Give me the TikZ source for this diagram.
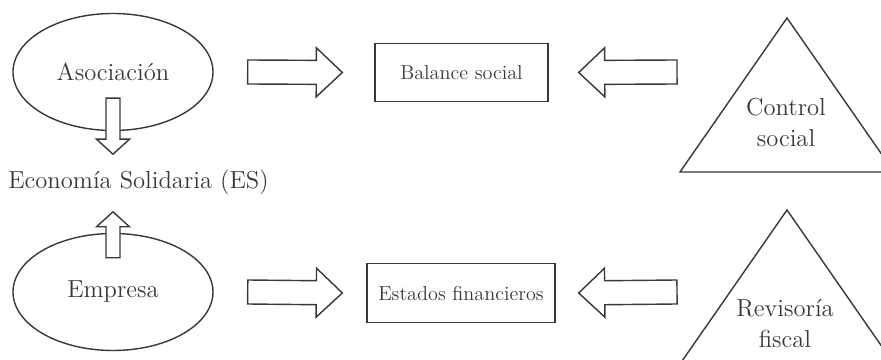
\documentclass[tikz,border=0pt]{standalone}
\usepackage{tikz}
\usetikzlibrary{positioning,calc,shapes.geometric}
\definecolor{ink}{gray}{0.22}
\newcommand\lblfont{\fontsize{14}{18}\selectfont}
\newcommand\boxfont{\fontsize{11.5}{14}\selectfont}
\tikzset{%
  blob/.style     = { ellipse, draw = ink, line width = 0.8pt, text = ink, font = \lblfont,
                      minimum width = 4cm, minimum height = 2.34cm },
  sbox/.style     = { rectangle, draw = ink, line width = 0.8pt, text = ink, font = \boxfont,
                      minimum width = #1, minimum height = 1.17cm },
  tri/.style      = { draw = ink, line width = 0.8pt },
  tlbl/.style     = { text = ink, font = \lblfont, align = center, inner sep = 0pt },
  fat/.style n args = {3}{ draw = ink, line width = 0.8pt, fill = white,
                      to path = { ($(\tikztotarget)!#3!(\tikztostart)$) coordinate (fatbase)
                        ($(\tikztostart)!#1!90:(\tikztotarget)$)
                        -- ($(fatbase)!#1!90:(\tikztotarget)$)
                        -- ($(fatbase)!#2!90:(\tikztotarget)$)
                        -- (\tikztotarget)
                        -- ($(fatbase)!#2!-90:(\tikztotarget)$)
                        -- ($(fatbase)!#1!-90:(\tikztotarget)$)
                        -- ($(\tikztostart)!#1!-90:(\tikztotarget)$)
                        -- cycle } },
  hfat/.style     = { fat = {0.24cm}{0.49cm}{0.52cm} },
  vfat/.style     = { fat = {0.14cm}{0.33cm}{0.3cm} }
}
\begin{document}
\begin{tikzpicture}
\useasboundingbox (0,0) rectangle (17.62,7.2);

\node(asoc) [blob] at (2.26,5.76) {Asociación};
\node(emp)  [blob] at (2.26,1.36) {Empresa};
\node(es)   [anchor = west, inner sep = 0pt, text = ink, font = \lblfont] at (0.16,3.55)
            {Economía Solidaria (ES)};

\node(bal) [sbox=3.46cm] at (9.23,5.75) {Balance social};
\node(est) [sbox=3.76cm] at (9.22,1.34) {Estados financieros};

% triangles
\coordinate (ctop) at (15.74,6.84);
\coordinate (rtop) at (15.74,3.0);
\draw[tri] (ctop) -- ++(-2.14,-3.08) -- ++(4.28,0) -- cycle;
\draw[tri] (rtop) -- ++(-2.14,-3.08) -- ++(4.28,0) -- cycle;
\node(ctrl) [tlbl] at (15.72,4.75) {Control\\social};
\node(rev)  [tlbl] at (15.70,0.73) {Revisoría\\fiscal};

% arrow ends
\coordinate[right = 0.68cm of asoc] (a1s);
\coordinate[left  = 0.64cm of bal]  (a1e);
\coordinate (a2s) at (13.54,5.76);
\coordinate[right = 0.60cm of bal]  (a2e);
\coordinate[right = 0.68cm of emp]  (a3s);
\coordinate[left  = 0.48cm of est]  (a3e);
\coordinate (a4s) at (13.54,1.36);
\coordinate[right = 0.46cm of est]  (a4e);
\coordinate[above = 0.66cm of asoc.south] (d1s);
\coordinate[below = 0.46cm of asoc.south] (d1e);
\coordinate[below = 0.50cm of emp.north]  (u1s);
\coordinate[above = 0.42cm of emp.north]  (u1e);

\draw[hfat] (a1s) to (a1e);
\draw[hfat] (a2s) to (a2e);
\draw[hfat] (a3s) to (a3e);
\draw[hfat] (a4s) to (a4e);
\draw[vfat] (d1s) to (d1e);
\draw[vfat] (u1s) to (u1e);
\end{tikzpicture}
\end{document}
